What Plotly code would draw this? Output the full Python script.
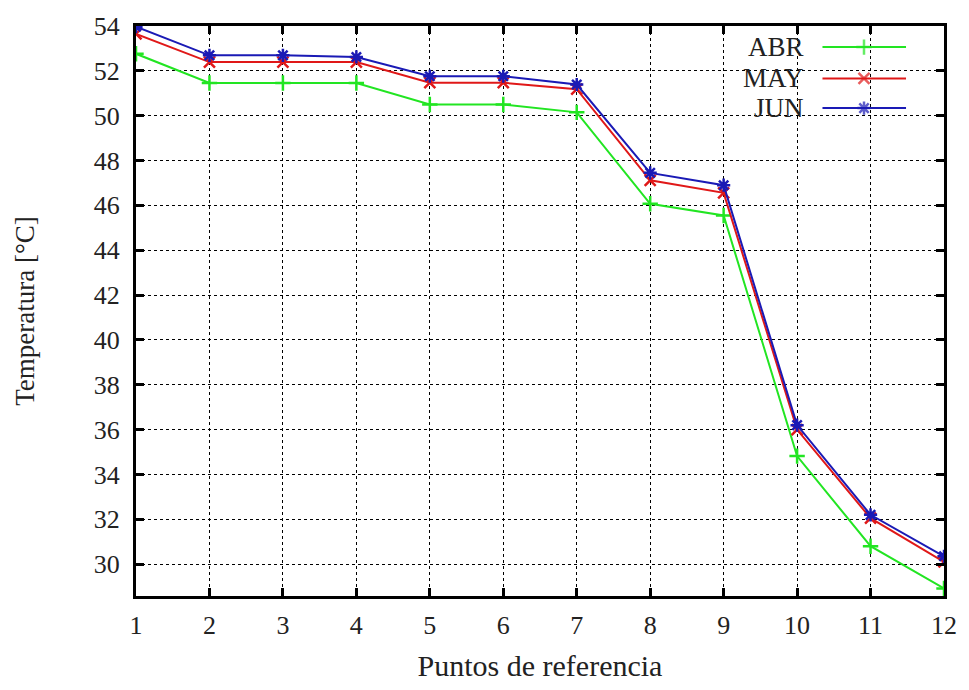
import plotly.graph_objects as go

x_points = [1, 2, 3, 4, 5, 6, 7, 8, 9, 10, 11, 12]
abr = [52.76, 51.46, 51.46, 51.46, 50.5, 50.5, 50.15, 46.07, 45.55, 34.82, 30.8, 28.92]
may = [53.65, 52.39, 52.39, 52.39, 51.47, 51.47, 51.18, 47.12, 46.56, 36.0, 32.05, 30.1]
jun = [53.97, 52.69, 52.69, 52.62, 51.76, 51.76, 51.39, 47.45, 46.9, 36.2, 32.2, 30.35]
y_ticks = [30, 32, 34, 36, 38, 40, 42, 44, 46, 48, 50, 52, 54]
series_names = ["ABR", "MAY", "JUN"]

FONT = "Liberation Serif"
TXT = "#222"

colors = ["#22e522", "#e01818", "#1a1ab5"]
symbols = ["cross-thin-open", "x-thin-open", "asterisk-open"]
legend_y = [0.963, 0.908, 0.856]

fig = go.Figure()
for name, vals, col, sym in zip(series_names, [abr, may, jun], colors, symbols):
    fig.add_trace(go.Scatter(
        x=x_points, y=vals, name=name, mode="lines+markers",
        line=dict(color=col, width=2),
        marker=dict(symbol=sym, size=11, color=col, line=dict(color=col, width=2.5)),
        showlegend=False,
    ))

# custom gnuplot-style legend (text left of sample)
for name, col, sym, ly in zip(series_names, colors, symbols, legend_y):
    fig.add_trace(go.Scatter(
        x=[0.8496, 0.901, 0.953], y=[ly, ly, ly], mode="lines+markers",
        xaxis="x2", yaxis="y2", showlegend=False, hoverinfo="skip",
        line=dict(color=col, width=2),
        marker=dict(symbol=sym, size=[0, 11, 0], color=col, line=dict(color=col, width=2.5)),
    ))
    fig.add_annotation(
        x=0.8286, y=ly, xref="paper", yref="paper", text=name, showarrow=False,
        xanchor="right", yanchor="middle",
        font=dict(family=FONT, size=27, color=TXT),
    )

fig.add_shape(type="rect", xref="paper", yref="paper",
              x0=0.749, x1=0.972, y0=0.83, y1=0.995,
              fillcolor="white", line=dict(width=0), layer="between")

axis_common = dict(
    showline=True, linecolor="black", linewidth=3, mirror="ticks",
    ticks="inside", ticklen=8, tickwidth=3, tickcolor="black",
    showgrid=True, gridcolor="black", griddash="dot", gridwidth=1,
    zeroline=False,
    tickfont=dict(family=FONT, size=26, color=TXT),
)

fig.update_xaxes(
    range=[1, 12], tickvals=x_points, ticktext=[str(v) for v in x_points],
    ticklabelstandoff=4,
    title=dict(text="Puntos de referencia", font=dict(family=FONT, size=30, color=TXT), standoff=16),
    **axis_common,
)
fig.update_yaxes(
    range=[28.58, 54], tickvals=y_ticks, ticktext=[str(v) for v in y_ticks],
    ticklabelstandoff=8,
    title=dict(text="Temperatura [°C]", font=dict(family=FONT, size=27, color=TXT), standoff=52),
    **axis_common,
)

fig.update_layout(
    width=969, height=690,
    margin=dict(l=136, r=22, t=22, b=94),
    paper_bgcolor="white", plot_bgcolor="white",
    showlegend=False,
    xaxis2=dict(overlaying="x", range=[0, 1], visible=False, fixedrange=True),
    yaxis2=dict(overlaying="y", range=[0, 1], visible=False, fixedrange=True),
)

fig.write_html("out.html")
